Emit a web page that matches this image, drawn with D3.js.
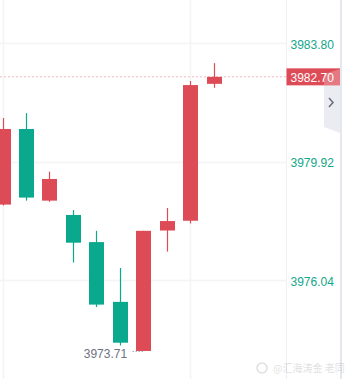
<!DOCTYPE html>
<html>
<head>
<meta charset="utf-8">
<script src="https://cdn.jsdelivr.net/npm/d3@7"></script>
<style>
  html, body { margin: 0; padding: 0; background: #fff; }
  #chart { width: 347px; height: 379px; }
  text { font-family: "Liberation Sans", Arial, sans-serif; }
</style>
</head>
<body>
<div id="chart"></div>
<script>
// candles, oldest first (red = rising, green = falling)
const opens  = [3978.51, 3980.99, 3978.64, 3978.17, 3977.28, 3975.32, 3973.71, 3977.66, 3977.98, 3982.47];
const closes = [3980.99, 3978.74, 3979.35, 3977.26, 3975.23, 3973.98, 3977.65, 3977.97, 3982.43, 3982.70];
const highs  = [3981.35, 3981.51, 3979.59, 3978.33, 3977.65, 3976.43, 3977.65, 3978.40, 3982.56, 3983.15];
const lows   = [3978.48, 3978.64, 3978.60, 3976.61, 3975.15, 3973.89, 3973.71, 3976.97, 3977.89, 3982.34];
const yTicks = [3983.80, 3979.92, 3976.04];
const lastPrice = 3982.70;
const lowLabel = 3973.71;
const lowIndex = 6;
const gridCandles = [0, 8];

const W = 347, H = 379;
const axisX = 286.5;
const RED = "#dd4b57", GREEN = "#0aa88c";

const candles = opens.map((o, i) => ({ i, o, c: closes[i], h: highs[i], l: lows[i] }));

const svg = d3.select("#chart").append("svg")
  .attr("width", W).attr("height", H);

const x = d3.scaleLinear().domain([0, 9]).range([2.5, 213.5]);
const y = d3.scaleLinear().domain([3972.79, 3985.22]).range([H, 0]);
const bodyW = 15;

// grid
svg.append("g").selectAll("line")
  .data(yTicks).enter().append("line")
  .attr("x1", 0).attr("x2", axisX)
  .attr("y1", d => Math.round(y(d)) + 0.5).attr("y2", d => Math.round(y(d)) + 0.5)
  .attr("stroke", "#f3f4f7").attr("stroke-width", 1.5);

svg.append("g").selectAll("line")
  .data(gridCandles).enter().append("line")
  .attr("x1", d => Math.round(x(d)) + 0.5).attr("x2", d => Math.round(x(d)) + 0.5)
  .attr("y1", 0).attr("y2", H)
  .attr("stroke", "#f3f4f7").attr("stroke-width", 1.5);

// last price dotted line
svg.append("line")
  .attr("x1", 0).attr("x2", axisX)
  .attr("y1", y(lastPrice)).attr("y2", y(lastPrice))
  .attr("stroke", "#f2b9bd").attr("stroke-width", 1)
  .attr("stroke-dasharray", "2,2");

// candles
const g = svg.append("g");
g.selectAll(".wick").data(candles).enter().append("line")
  .attr("x1", d => Math.round(x(d.i)) + 0.5).attr("x2", d => Math.round(x(d.i)) + 0.5)
  .attr("y1", d => y(d.h)).attr("y2", d => y(d.l))
  .attr("stroke", d => d.c >= d.o ? RED : GREEN).attr("stroke-width", 1.2);

g.selectAll(".body").data(candles).enter().append("rect")
  .attr("x", d => Math.round(x(d.i)) - 7)
  .attr("width", bodyW)
  .attr("y", d => y(Math.max(d.o, d.c)))
  .attr("height", d => Math.max(1, Math.abs(y(d.o) - y(d.c))))
  .attr("fill", d => d.c >= d.o ? RED : GREEN);

// lowest price marker
const lowY = y(lowLabel);
svg.append("line")
  .attr("x1", x(lowIndex) - 10.5).attr("x2", x(lowIndex) - 0.5)
  .attr("y1", lowY + 0.5).attr("y2", lowY + 0.5)
  .attr("stroke", "#7a7e8c").attr("stroke-width", 1)
  .attr("stroke-dasharray", "1,2");
svg.append("text")
  .attr("x", x(lowIndex) - 16).attr("y", lowY + 3)
  .attr("dy", "0.35em")
  .attr("text-anchor", "end")
  .attr("font-size", 12)
  .attr("fill", "#6e7280")
  .text(lowLabel.toFixed(2));

// right axis
svg.append("line")
  .attr("x1", axisX).attr("x2", axisX).attr("y1", 0).attr("y2", H)
  .attr("stroke", "#eef0f4").attr("stroke-width", 1);

svg.append("g").selectAll("text")
  .data(yTicks).enter().append("text")
  .attr("x", 290.5).attr("y", d => y(d) + 1.5)
  .attr("dy", "0.35em")
  .attr("font-size", 12)
  .attr("fill", "#13a68a")
  .text(d => d.toFixed(2));

// collapse tab (under the price tag)
svg.append("path")
  .attr("d", "M340,69 L324,74 L324,127 L340,133 Z")
  .attr("fill", "#e4e5ec").attr("fill-opacity", 0.75);

// last price tag
const tagY = y(lastPrice);
svg.append("rect")
  .attr("x", axisX).attr("y", tagY - 8.5)
  .attr("width", 340 - axisX).attr("height", 17)
  .attr("fill", RED);
svg.append("text")
  .attr("x", 290.5).attr("y", tagY + 0.5)
  .attr("dy", "0.35em")
  .attr("font-size", 12)
  .attr("fill", "#fff")
  .text(lastPrice.toFixed(2));
// light wash where the tab crosses the tag
svg.append("path")
  .attr("d", "M340,69 L324,74 L324," + (tagY + 8.5) + " L340," + (tagY + 8.5) + " Z")
  .attr("fill", "#ffffff").attr("fill-opacity", 0.25);

svg.append("path")
  .attr("d", "M329,98 L333,102.5 L329,107")
  .attr("fill", "none").attr("stroke", "#666a78").attr("stroke-width", 1.5);

// right border
svg.append("rect")
  .attr("x", 340).attr("y", 0).attr("width", 2).attr("height", H)
  .attr("fill", "#e6e7ee");

// watermark
const wm = svg.append("g").attr("opacity", 0.18);
wm.append("circle").attr("cx", 262).attr("cy", 368).attr("r", 5)
  .attr("fill", "none").attr("stroke", "#555").attr("stroke-width", 1.5);
wm.append("text")
  .attr("x", 273).attr("y", 368).attr("dy", "0.35em")
  .attr("font-size", 10).attr("fill", "#555")
  .style("font-family", "'Noto Sans CJK SC', sans-serif")
  .text("@汇海涛金 老同");
</script>
</body>
</html>
